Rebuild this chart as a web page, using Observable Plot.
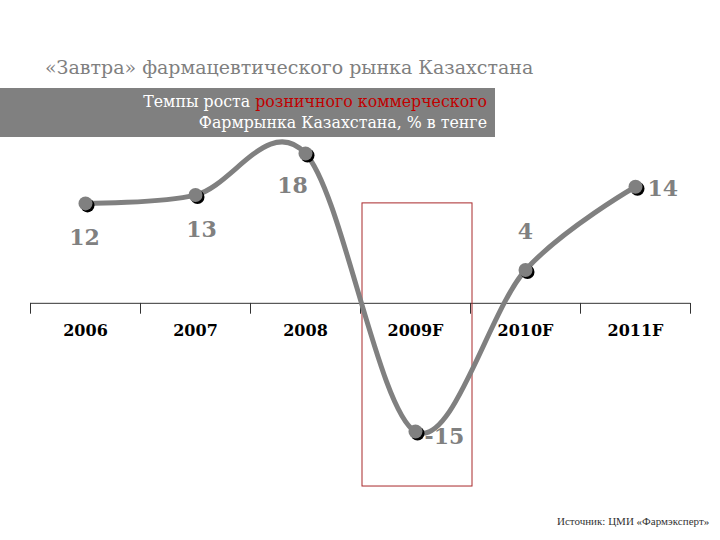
<!DOCTYPE html>
<html>
<head>
<meta charset="utf-8">
<script src="https://cdn.jsdelivr.net/npm/d3@7"></script>
<script src="https://cdn.jsdelivr.net/npm/@observablehq/plot@0.6"></script>
<style>
  html, body { margin: 0; padding: 0; background: #fff; }
  #wrap { position: relative; width: 720px; height: 540px; overflow: hidden; }
  #chart { position: absolute; left: 0; top: 0; }
  #title { position: absolute; left: 45px; top: 56px; font-family: "DejaVu Serif", "Liberation Serif", serif; font-size: 19px; color: #7f7f7f; white-space: nowrap; }
  #box { position: absolute; left: 0; top: 88px; width: 495px; height: 49px; background: #808080; color: #fff;
         font-family: "DejaVu Serif", "Liberation Serif", serif; font-size: 15.8px; line-height: 21px; text-align: right; box-sizing: border-box; padding: 3px 8px 0 0; }
  #box .red { color: #c00000; }
  #source { position: absolute; left: 557px; top: 515px; font-family: "Liberation Serif", serif; font-size: 11px; color: #333; white-space: nowrap; }
</style>
</head>
<body>
<div id="wrap">
  <div id="chart"></div>
  <div id="title">«Завтра» фармацевтического рынка Казахстана</div>
  <div id="box">Темпы роста <span class="red">розничного коммерческого</span><br>Фармрынка Казахстана, % в тенге</div>
  <div id="source">Источник: ЦМИ «Фармэксперт»</div>
</div>
<script>
const categories = ["2006", "2007", "2008", "2009F", "2010F", "2011F"];
const values = [12, 13, 18, -15.4, 4, 14];
const valueLabels = ["12", "13", "18", "-15", "4", "14"];
const highlightCategory = "2009F";
const highlightTop = 12;
const highlightBottom = -22;

// label placement (style, not data)
const labelPlacement = [
  {dx: -1, dy: 35, anchor: "middle"},
  {dx: 6, dy: 35, anchor: "middle"},
  {dx: -13, dy: 33, anchor: "middle"},
  {dx: 9, dy: 5, anchor: "start"},
  {dx: 0, dy: -38, anchor: "middle"},
  {dx: 12, dy: 2, anchor: "start"}
];

const pts = categories.map((c, i) => ({cat: c, x: i + 0.5, y: values[i], label: valueLabels[i], ...labelPlacement[i]}));
const bounds = d3.range(categories.length + 1);
const hi = categories.indexOf(highlightCategory);

const tickShape = {draw(context, l) { context.moveTo(0, 0); context.lineTo(0, l); }};

const serif = "DejaVu Serif, serif";
const marks = [
  Plot.ruleY([0], {stroke: "#333", strokeWidth: 1}),
  Plot.vector(bounds, {x: d => d, y: 0, length: 10, rotate: 0, anchor: "start", shape: tickShape, stroke: "#333", strokeWidth: 1}),
  Plot.rect([{x1: hi, x2: hi + 1, y1: highlightBottom, y2: highlightTop}], {x1: "x1", x2: "x2", y1: "y1", y2: "y2", fill: "none", stroke: "#a8282b", strokeWidth: 1, dx: 2}),
  Plot.text(categories, {x: (d, i) => i + 0.5, y: 0, dy: 28, text: d => d, fontFamily: serif, fontWeight: "bold", fontSize: 16, fill: "#000"}),
  Plot.line(pts, {x: "x", y: "y", curve: "cardinal", stroke: "#808080", strokeWidth: 5}),
  Plot.dot(pts, {x: "x", y: "y", r: 7, fill: "#000", dx: 2, dy: 2}),
  Plot.dot(pts, {x: "x", y: "y", r: 7, fill: "#808080"})
];
for (const p of pts) {
  marks.push(Plot.text([p], {x: "x", y: "y", text: "label", dx: p.dx, dy: p.dy, textAnchor: p.anchor,
    fontFamily: serif, fontWeight: "bold", fontSize: 22, fill: "#808080"}));
}

const chart = Plot.plot({
  width: 720,
  height: 540,
  marginLeft: 30,
  marginRight: 30,
  marginTop: 53,
  marginBottom: 29,
  x: {domain: [0, categories.length], axis: null},
  y: {domain: [-25, 30], axis: null},
  style: {background: "transparent"},
  marks
});
document.getElementById("chart").appendChild(chart);
</script>
</body>
</html>
